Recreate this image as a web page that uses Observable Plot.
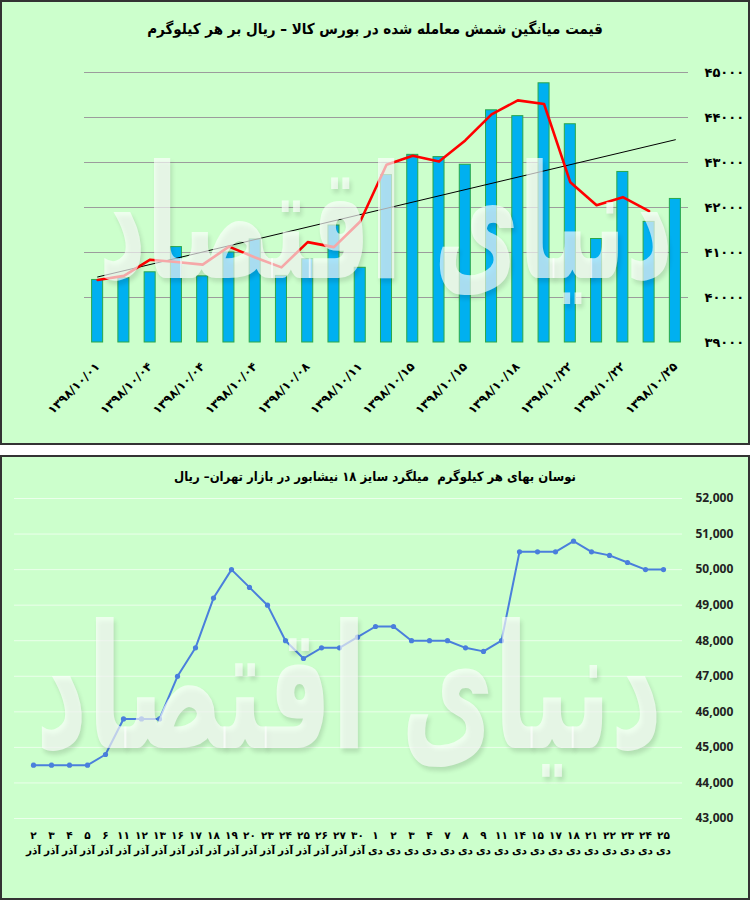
<!DOCTYPE html>
<html><head><meta charset="utf-8">
<script src="https://cdn.jsdelivr.net/npm/d3@7"></script>
<script src="https://cdn.jsdelivr.net/npm/@observablehq/plot@0.6"></script>
<style>
body{margin:0;background:#fff;width:750px;height:900px;position:relative;overflow:hidden}
.panel{position:absolute;left:0;width:750px;height:445px;box-sizing:border-box;border:2px solid #333;background:#ccffcc;overflow:hidden}
.panel svg{position:absolute;left:0;top:0}
.title{position:absolute;left:0;right:0;text-align:center;direction:rtl;font-family:"DejaVu Sans Condensed","DejaVu Sans",sans-serif;font-weight:bold;color:#000;white-space:pre;z-index:3;line-height:1.2}
.wm{position:absolute;text-align:center;direction:rtl;font-family:"DejaVu Sans",sans-serif;font-weight:bold;color:rgba(255,255,255,0.66);text-shadow:2px 2px 3px rgba(0,0,0,0.12);z-index:2;pointer-events:none;white-space:nowrap;line-height:1;transform:scale(1.05,1.8)}
</style></head><body>
<div class="panel" id="p1" style="top:0"><div class="title" id="t1" style="top:18px;font-size:15px"></div><div class="wm" id="w1" style="left:84px;width:600px;top:178px;font-size:88px"></div></div>
<div class="panel" id="p2" style="top:455px"><div class="title" id="t2" style="top:12px;font-size:13px"></div><div class="wm" id="w2" style="left:14px;width:666px;top:184px;font-size:96px"></div></div>
<script>
// ---------- Top chart data ----------
const topTitle = "قیمت میانگین شمش معامله شده در بورس کالا – ریال بر هر کیلوگرم";
const barValues = [40390, 40430, 40560, 41120, 40470, 41000, 41290, 40480, 40850, 41600, 40660, 42720, 43170, 43120, 42950, 44160, 44030, 44760, 43850, 41300, 42790, 41680, 42190];
const avgValues = [40390, 40480, 40840, 40790, 40730, 41130, 40890, 40670, 41230, 41120, 41690, 42950, 43150, 43020, 43490, 44070, 44380, 44300, 42560, 42050, 42230, 41920];
const topTickLabels = ["۱۳۹۸/۱۰/۰۱","۱۳۹۸/۱۰/۰۴","۱۳۹۸/۱۰/۰۴","۱۳۹۸/۱۰/۰۴","۱۳۹۸/۱۰/۰۸","۱۳۹۸/۱۰/۱۱","۱۳۹۸/۱۰/۱۵","۱۳۹۸/۱۰/۱۵","۱۳۹۸/۱۰/۱۸","۱۳۹۸/۱۰/۲۲","۱۳۹۸/۱۰/۲۲","۱۳۹۸/۱۰/۲۵"];
const topYTicks = [39000, 40000, 41000, 42000, 43000, 44000, 45000];
const topYTickLabels = ["۳۹۰۰۰","۴۰۰۰۰","۴۱۰۰۰","۴۲۰۰۰","۴۳۰۰۰","۴۴۰۰۰","۴۵۰۰۰"];

// ---------- Bottom chart data ----------
const bottomTitle = "نوسان بهای هر کیلوگرم  میلگرد سایز ۱۸ نیشابور در بازار تهران– ریال";
const dayLabels = ["۲","۳","۴","۵","۶","۱۱","۱۲","۱۳","۱۶","۱۷","۱۸","۱۹","۲۰","۲۳","۲۴","۲۵","۲۶","۲۷","۳۰","۱","۲","۳","۴","۷","۸","۹","۱۱","۱۴","۱۵","۱۷","۱۸","۲۱","۲۲","۲۳","۲۴","۲۵"];
const monthLabels = ["آذر","آذر","آذر","آذر","آذر","آذر","آذر","آذر","آذر","آذر","آذر","آذر","آذر","آذر","آذر","آذر","آذر","آذر","آذر","دی","دی","دی","دی","دی","دی","دی","دی","دی","دی","دی","دی","دی","دی","دی","دی","دی"];
const rebarPrices = [44500,44500,44500,44500,44800,45800,45800,45800,47000,47800,49200,50000,49500,49000,48000,47500,47800,47800,48100,48400,48400,48000,48000,48000,47800,47700,48000,50500,50500,50500,50800,50500,50400,50200,50000,50000];
const bottomYTicks = [43000, 44000, 45000, 46000, 47000, 48000, 49000, 50000, 51000, 52000];
const watermark = "دنیای اقتصاد";

document.getElementById("t1").textContent = topTitle;
document.getElementById("t2").textContent = bottomTitle;
document.getElementById("w1").textContent = watermark;
document.getElementById("w2").textContent = watermark;

const barData = barValues.map((v, i) => ({i, v}));
const avgData = avgValues.map((v, i) => ({i, v}));
const topTickIdx = topTickLabels.map((_, k) => k * 2);

const topChart = Plot.plot({
  width: 746, height: 441,
  marginTop: 70, marginBottom: 101, marginLeft: 82, marginRight: 60,
  style: {background: "transparent", overflow: "visible"},
  x: {type: "linear", domain: [-0.5, barValues.length - 0.5], axis: null},
  y: {domain: [topYTicks[0], topYTicks[topYTicks.length - 1]], axis: null},
  marks: [
    Plot.gridY(topYTicks.slice(1), {stroke: "#9c9c9c", strokeOpacity: 1, strokeWidth: 1}),
    Plot.rect(barData, {x1: d => d.i - 0.21, x2: d => d.i + 0.21, y1: () => topYTicks[0], y2: "v", fill: "#00b0f0", stroke: "#2aa84a", strokeWidth: 1}),
    Plot.linearRegressionY(barData, {x: "i", y: "v", stroke: "#000", strokeWidth: 1, ci: 0}),
    Plot.line(avgData, {x: "i", y: "v", stroke: "#ff0000", strokeWidth: 2.6}),
    Plot.axisY(topYTicks, {anchor: "right", label: null, tickSize: 0, tickPadding: 16, textAnchor: "start",
      tickFormat: d => topYTickLabels[topYTicks.indexOf(d)], fontSize: 13, fontWeight: "bold", fontFamily: "DejaVu Sans", fill: "#000"}),
    Plot.axisX(topTickIdx, {anchor: "bottom", label: null, tickSize: 0, tickPadding: 22, tickRotate: -45,
      tickFormat: d => topTickLabels[d / 2], fontSize: 12, fontWeight: "bold", fontFamily: "DejaVu Sans", fill: "#000"})
  ]
});
document.getElementById("p1").prepend(topChart);

const lineData = rebarPrices.map((v, i) => ({i, v}));
const bottomChart = Plot.plot({
  width: 746, height: 441,
  marginTop: 41, marginBottom: 80, marginLeft: 12, marginRight: 66,
  style: {background: "transparent", overflow: "visible"},
  x: {type: "point", domain: d3.range(rebarPrices.length), padding: 0.5, axis: null},
  y: {domain: [bottomYTicks[0], bottomYTicks[bottomYTicks.length - 1]], axis: null},
  marks: [
    Plot.gridY(bottomYTicks, {stroke: "#ffffff", strokeOpacity: 0.6, strokeWidth: 1}),
    Plot.line(lineData, {x: "i", y: "v", stroke: "#4a7fdc", strokeWidth: 2}),
    Plot.dot(lineData, {x: "i", y: "v", r: 2.6, fill: "#4a7fdc", stroke: "none"}),
    Plot.axisY(bottomYTicks, {anchor: "right", label: null, tickSize: 0, tickPadding: 13, textAnchor: "start",
      tickFormat: d3.format(","), fontSize: 12, fontWeight: "bold", fontFamily: "Noto Sans", fill: "#222"}),
    Plot.axisX(d3.range(rebarPrices.length), {anchor: "bottom", label: null, tickSize: 0, tickPadding: 10, lineHeight: 1.4,
      tickFormat: d => dayLabels[d] + "\n" + monthLabels[d], fontSize: 10.5, fontWeight: "bold", fontFamily: "DejaVu Sans", fill: "#000"})
  ]
});
document.getElementById("p2").prepend(bottomChart);
</script>
</body></html>
